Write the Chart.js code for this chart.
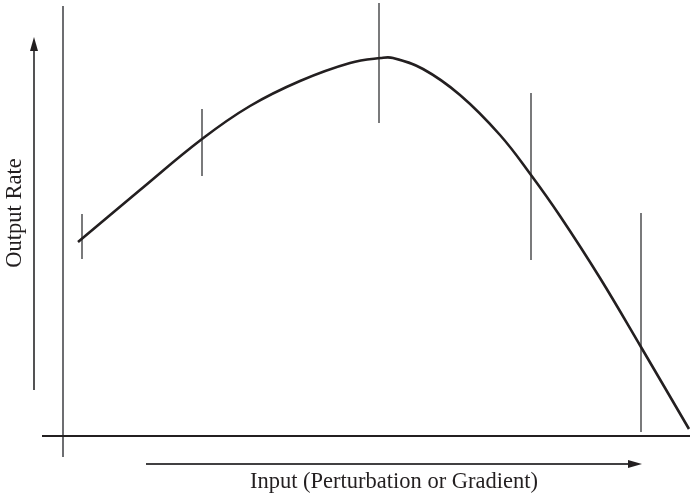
<!DOCTYPE html>
<html>
<head>
<meta charset="utf-8">
<script src="https://cdn.jsdelivr.net/npm/chart.js@4"></script>
<style>
  html, body { margin: 0; padding: 0; background: #fff; }
  #wrap { width: 699px; height: 496px; position: relative; }
</style>
</head>
<body>
<div id="wrap"><canvas id="chart"></canvas></div>
<script>
// curve (input vs output rate)
const curveX = [15, 77, 139, 187, 237, 287, 318, 330, 360, 397, 437, 468, 497, 537, 578, 626];
const curveY = [194, 246, 297, 330, 355, 373, 378, 378, 367, 341, 301, 261, 220, 158, 89, 7];

// vertical bars (spread of the measurement)
const barX = [19, 139, 316, 468, 578];
const barLow = [177, 260, 313, 176, 4];
const barHigh = [222, 327, 433, 343, 223];

const xTitle = 'Input (Perturbation or Gradient)';
const yTitle = 'Output Rate';

const curve = curveX.map((x, i) => ({ x: x, y: curveY[i] }));

const barSets = barX.map((x, i) => ({
    data: [{ x: x, y: barLow[i] }, { x: x, y: barHigh[i] }],
    borderColor: '#58595b',
    borderWidth: 1.6,
    pointRadius: 0,
    showLine: true,
    tension: 0
}));

const font = '22.5px "Liberation Serif", "Times New Roman", serif';

const decor = {
    id: 'decor',
    beforeDatasetsDraw(chart) {
        const ctx = chart.ctx;
        const xs = chart.scales.x, ys = chart.scales.y;
        ctx.save();
        // vertical axis
        ctx.strokeStyle = '#6d6e71';
        ctx.lineWidth = 2;
        ctx.beginPath();
        ctx.moveTo(xs.getPixelForValue(0), ys.getPixelForValue(430));
        ctx.lineTo(xs.getPixelForValue(0), ys.getPixelForValue(-21));
        ctx.stroke();
        // horizontal axis
        ctx.strokeStyle = '#231f20';
        ctx.lineWidth = 1.8;
        ctx.beginPath();
        ctx.moveTo(xs.getPixelForValue(-21), ys.getPixelForValue(0));
        ctx.lineTo(xs.getPixelForValue(627), ys.getPixelForValue(0));
        ctx.stroke();
        ctx.restore();
    },
    afterDatasetsDraw(chart) {
        const ctx = chart.ctx;
        const xs = chart.scales.x, ys = chart.scales.y;
        ctx.save();
        ctx.strokeStyle = '#414042';
        ctx.fillStyle = '#231f20';
        ctx.lineWidth = 1.8;

        // y arrow
        const ax = xs.getPixelForValue(-29);
        const ay0 = ys.getPixelForValue(46), ay1 = ys.getPixelForValue(399);
        ctx.beginPath();
        ctx.moveTo(ax, ay0);
        ctx.lineTo(ax, ay1 + 10);
        ctx.stroke();
        ctx.beginPath();
        ctx.moveTo(ax, ay1);
        ctx.lineTo(ax - 4, ay1 + 14);
        ctx.lineTo(ax + 4, ay1 + 14);
        ctx.closePath();
        ctx.fill();

        // x arrow
        const by = ys.getPixelForValue(-28);
        const bx0 = xs.getPixelForValue(83), bx1 = xs.getPixelForValue(579);
        ctx.beginPath();
        ctx.moveTo(bx0, by);
        ctx.lineTo(bx1 - 10, by);
        ctx.stroke();
        ctx.beginPath();
        ctx.moveTo(bx1, by);
        ctx.lineTo(bx1 - 14, by - 4);
        ctx.lineTo(bx1 - 14, by + 4);
        ctx.closePath();
        ctx.fill();

        // titles
        ctx.fillStyle = '#231f20';
        ctx.font = font;
        ctx.textAlign = 'center';
        ctx.textBaseline = 'middle';
        ctx.fillText(xTitle, xs.getPixelForValue(331), ys.getPixelForValue(-46));
        ctx.translate(xs.getPixelForValue(-48), ys.getPixelForValue(223));
        ctx.rotate(-Math.PI / 2);
        ctx.fillText(yTitle, 0, 0);
        ctx.restore();
    }
};

new Chart(document.getElementById('chart'), {
    type: 'scatter',
    data: {
        datasets: [{
            data: curve,
            borderColor: '#231f20',
            borderWidth: 2.6,
            pointRadius: 0,
            showLine: true,
            tension: 0.4
        }].concat(barSets)
    },
    options: {
        responsive: true,
        maintainAspectRatio: false,
        animation: false,
        layout: { padding: 0 },
        plugins: { legend: { display: false }, tooltip: { enabled: false } },
        scales: {
            x: { type: 'linear', display: false, min: -63, max: 636 },
            y: { type: 'linear', display: false, min: -60, max: 436 }
        }
    },
    plugins: [decor]
});
</script>
</body>
</html>
